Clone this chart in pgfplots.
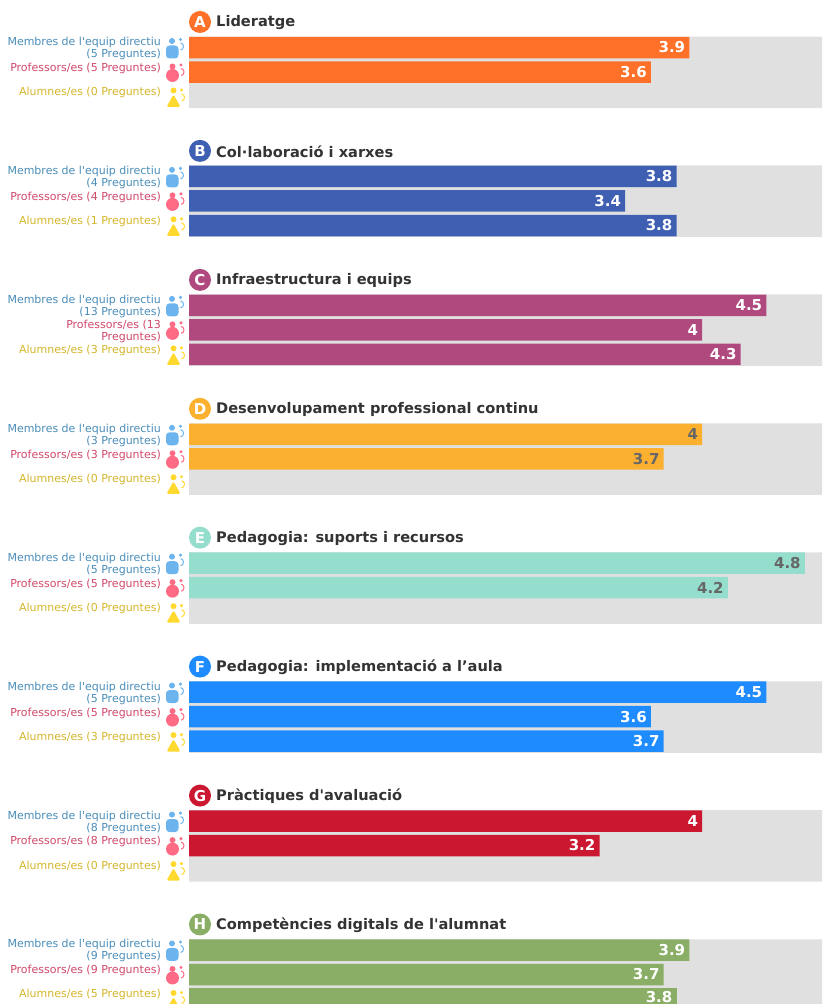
\documentclass[border=0pt]{standalone}
\usepackage{pgfplots}
\usepackage{fontspec}
\setmainfont{DejaVu Sans}
\newfontfamily\df{DejaVu Sans}
\pgfplotsset{compat=1.18}
\definecolor{cgrey}{HTML}{E0E0E0}
\definecolor{cA}{HTML}{FF7029}
\definecolor{cB}{HTML}{3F5FB3}
\definecolor{cC}{HTML}{B04A7E}
\definecolor{cD}{HTML}{FBB030}
\definecolor{cE}{HTML}{95DDCD}
\definecolor{cF}{HTML}{1E8CFF}
\definecolor{cG}{HTML}{CB1730}
\definecolor{cH}{HTML}{8AAE66}
\definecolor{lblue}{HTML}{4A8DB8}
\definecolor{lpink}{HTML}{D0486A}
\definecolor{lyel}{HTML}{D4B52A}
\definecolor{iblue}{HTML}{6CB4EE}
\definecolor{ipink}{HTML}{FF6B85}
\definecolor{iyel}{HTML}{FFD92E}
\definecolor{ttl}{HTML}{333333}
\definecolor{dgrey}{HTML}{666666}
\pgfplotsset{
  sec/.style={xbar, bar width=21.5pt, bar shift=0pt, fill=#1, draw=none, point meta=x,
    nodes near coords={\pgfmathprintnumber[fixed,precision=1,assume math mode=true]{\pgfplotspointmeta}},
    nodes near coords align={anchor=east},
    every node near coord/.append style={font=\fontsize{15}{15}\selectfont\bfseries, text=white, xshift=-1pt, inner sep=3pt}},
  secd/.style={sec=#1, every node near coord/.append style={text=dgrey}}
}
\newcommand{\sect}[4]{%
  \fill[#3] (200,{1004-22-#1}) circle (11);
  \node[text=white,font=\df\fontsize{15}{15}\selectfont\bfseries] at (200,{1004-22-#1}) {#2};
  \node[anchor=west,inner sep=0pt,text=ttl,font=\df\fontsize{14.6}{14}\selectfont\bfseries] at (216,{1004-23-#1}) {#4};
}
\newcommand{\lab}[3]{%
  \node[anchor=east,inner sep=0pt,align=right,text=#2,font=\df\fontsize{11}{12}\selectfont] at (161,{1004-#1}) {#3};
}
\newcommand{\icons}[1]{%
  \begin{scope}[yshift={-#1}]
    \fill[iblue] (172,{1004-41}) circle (3);
    \fill[iblue,rounded corners=3.5pt] (166,{1004-45.5}) rectangle (178.5,{1004-58.5});
    \fill[iblue] (180.5,{1004-39.5}) circle (1.7);
    \draw[iblue,line width=1pt] (180.5,{1004-43}) arc (90:-90:3 and 3.5);
    \fill[ipink] (172.5,{1004-66.5}) circle (3);
    \fill[ipink] (172.5,{1004-75.5}) circle (6.5);
    \fill[ipink] (181,{1004-65}) circle (1.7);
    \draw[ipink,line width=1pt] (181,{1004-68.5}) arc (90:-90:3 and 3.5);
    \fill[iyel] (173.5,{1004-90.5}) circle (3);
    \fill[iyel,rounded corners=1.5pt] (173.5,{1004-94.5}) -- (180.5,{1004-107}) -- (166.5,{1004-107}) -- cycle;
    \fill[iyel] (181.5,{1004-90}) circle (1.7);
    \draw[iyel,line width=1pt] (181.5,{1004-94}) arc (90:-90:3 and 3.5);
  \end{scope}
}
\begin{document}
\begin{tikzpicture}[x=1pt,y=1pt]
\clip (0,0) rectangle (822,1004);
\begin{axis}[at={(0,0)},anchor=south west,scale only axis,width=822pt,height=1004pt,hide axis,
  xmin=-1.4731,xmax=4.9338,ymin=0,ymax=1004,y dir=reverse,clip=true]
\addplot[xbar,bar width=71.5pt,bar shift=0pt,fill=cgrey,draw=none] coordinates {
 (4.9338,72.3) (4.9338,201.2) (4.9338,330.2) (4.9338,459.1) (4.9338,588) (4.9338,717) (4.9338,845.9) (4.9338,975)};
\addplot[sec=cA] coordinates {(3.9,47.5) (3.6,72)};
\addplot[sec=cB] coordinates {(3.8,176.4) (3.4,200.9) (3.8,225.5)};
\addplot[sec=cC] coordinates {(4.5,305.3) (4,329.8) (4.3,354.4)};
\addplot[secd=cD] coordinates {(4,434.3) (3.7,458.8)};
\addplot[secd=cE] coordinates {(4.8,563.2) (4.2,587.7)};
\addplot[sec=cF] coordinates {(4.5,692.1) (3.6,716.6) (3.7,741.2)};
\addplot[sec=cG] coordinates {(4,821) (3.2,845.5)};
\addplot[sec=cH] coordinates {(3.9,950) (3.7,974.5)};
\addplot[sec=cH, every node near coord/.append style={yshift=2pt}] coordinates {(3.8,999)};
\end{axis}
\sect{0}{A}{cA}{Lideratge}
\sect{128.9}{B}{cB}{Col·laboració i xarxes}
\sect{257.9}{C}{cC}{Infraestructura i equips}
\sect{386.8}{D}{cD}{Desenvolupament professional continu}
\sect{515.7}{E}{cE}{Pedagogia: suports i recursos}
\sect{644.6}{F}{cF}{Pedagogia: implementació a l’aula}
\sect{773.6}{G}{cG}{Pràctiques d'avaluació}
\sect{902.5}{H}{cH}{Competències digitals de l'alumnat}
\foreach \o in {0,128.9,257.9,386.8,515.7,644.6,773.6,902.5}{\icons{\o}}
\lab{48}{lblue}{Membres de l'equip directiu\\(5 Preguntes)}
\lab{68}{lpink}{Professors/es (5 Preguntes)}
\lab{92.5}{lyel}{Alumnes/es (0 Preguntes)}
\lab{177}{lblue}{Membres de l'equip directiu\\(4 Preguntes)}
\lab{197}{lpink}{Professors/es (4 Preguntes)}
\lab{221.5}{lyel}{Alumnes/es (1 Preguntes)}
\lab{306}{lblue}{Membres de l'equip directiu\\(13 Preguntes)}
\lab{331}{lpink}{Professors/es (13\\Preguntes)}
\lab{350.5}{lyel}{Alumnes/es (3 Preguntes)}
\lab{435}{lblue}{Membres de l'equip directiu\\(3 Preguntes)}
\lab{455}{lpink}{Professors/es (3 Preguntes)}
\lab{479.5}{lyel}{Alumnes/es (0 Preguntes)}
\lab{564}{lblue}{Membres de l'equip directiu\\(5 Preguntes)}
\lab{584}{lpink}{Professors/es (5 Preguntes)}
\lab{608}{lyel}{Alumnes/es (0 Preguntes)}
\lab{693}{lblue}{Membres de l'equip directiu\\(5 Preguntes)}
\lab{713}{lpink}{Professors/es (5 Preguntes)}
\lab{737}{lyel}{Alumnes/es (3 Preguntes)}
\lab{822}{lblue}{Membres de l'equip directiu\\(8 Preguntes)}
\lab{841.5}{lpink}{Professors/es (8 Preguntes)}
\lab{866}{lyel}{Alumnes/es (0 Preguntes)}
\lab{950.5}{lblue}{Membres de l'equip directiu\\(9 Preguntes)}
\lab{970}{lpink}{Professors/es (9 Preguntes)}
\lab{994.5}{lyel}{Alumnes/es (5 Preguntes)}
\end{tikzpicture}
\end{document}
